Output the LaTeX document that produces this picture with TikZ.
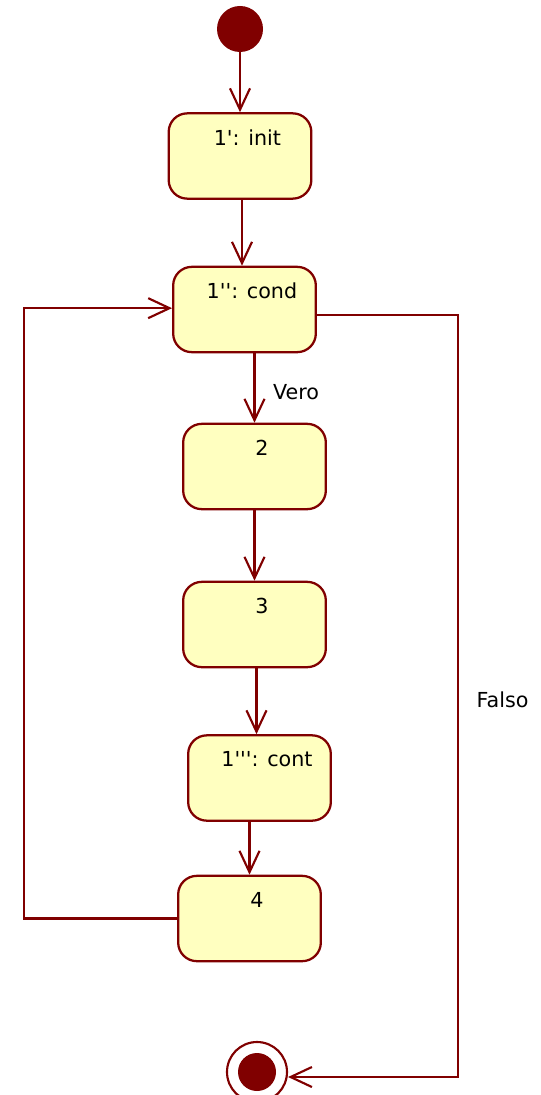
\documentclass[tikz,border=0pt]{standalone}
\usepackage{fontspec}
\setmainfont{DejaVu Sans}[Ligatures=TeXOff]
\usetikzlibrary{arrows.meta}
\definecolor{umlrosso}{RGB}{128,0,0}
\definecolor{umlgiallo}{RGB}{255,255,192}

\begin{document}
\begin{tikzpicture}[x=0.75pt, y=-0.75pt, font=\fontsize{15.5pt}{18pt}\selectfont]
\tikzset{stato/.style={draw=umlrosso, fill=umlgiallo, line width=1.7pt, rounded corners=14pt, minimum width=107pt, minimum height=64pt},
nome/.style={anchor=center, xshift=5.6pt, yshift=-19pt},
freccia/.style={draw=umlrosso, line width=1.6pt, -{Straight Barb[length=16pt, width=15pt]}}}
\useasboundingbox (0,0) rectangle (541,1095);
\node[circle, fill=umlrosso, minimum size=34.5pt, inner sep=0pt] (inizio) at (240,29) {};
\node[stato, label={[nome]north:{1': init}}] (init) at (240,156) {};
\node[stato, label={[nome]north:{1'': cond}}] (cond) at (244.5,309.5) {};
\node[stato, label={[nome]north:{2}}] (due) at (254.5,466.5) {};
\node[stato, label={[nome]north:{3}}] (tre) at (254.5,624.5) {};
\node[stato, label={[nome]north:{1''': cont}}] (cont) at (259.5,778) {};
\node[stato, label={[nome]north:{4}}] (quattro) at (249.5,918.5) {};
\node[circle, draw=umlrosso, fill=white, line width=1.6pt, minimum size=45pt, inner sep=0pt] (fine) at (257,1072) {};
\node[circle, fill=umlrosso, minimum size=28.5pt, inner sep=0pt] (fineint) at (fine) {};
\node (vero) at (296,392) {Vero};
\node (falso) at (502.5,700) {Falso};
\coordinate (sx) at (24,0);
\coordinate (dx) at (458,1077);
\draw[freccia] (inizio) -- (init);
\draw[freccia] ([xshift=1.5pt]init.south) -- ([xshift=1.5pt]init.south |- cond.north);
\draw[freccia] (due.north |- cond.south) -- (due.north);
\draw[freccia] (due) -- (tre);
\draw[freccia] ([xshift=1.5pt]tre.south) -- ([xshift=1.5pt]tre.south |- cont.north);
\draw[freccia] (quattro.north |- cont.south) -- (quattro.north);
\draw[freccia] (quattro.west) -- (quattro.west -| sx) |- ([yshift=1pt]cond.west);
\draw[freccia] ([yshift=-4pt]cond.east) -| (dx) -- (fine.east |- dx);
\end{tikzpicture}
\end{document}
